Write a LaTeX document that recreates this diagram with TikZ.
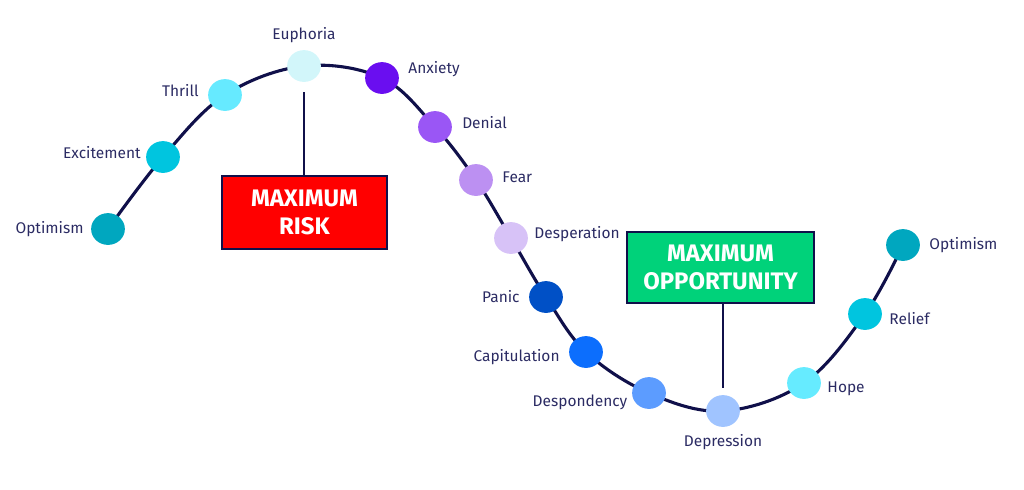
\documentclass[tikz,border=0pt]{standalone}
\usepackage{fontspec}
\setmainfont{Fira Sans}
\usepackage{tikz}
\usetikzlibrary{positioning, shapes.geometric}
\definecolor{navy}{HTML}{10104A}
\definecolor{labeltext}{HTML}{2B2B63}
\definecolor{riskred}{HTML}{FF0000}
\definecolor{oppgreen}{HTML}{00D27A}
\definecolor{cOpt}{HTML}{00A7BF}
\definecolor{cExc}{HTML}{00C5DF}
\definecolor{cThr}{HTML}{66EAFF}
\definecolor{cEup}{HTML}{D2F6FA}
\definecolor{cAnx}{HTML}{6A0EF0}
\definecolor{cDen}{HTML}{9A56F5}
\definecolor{cFea}{HTML}{BC90F2}
\definecolor{cDes}{HTML}{D7C2F7}
\definecolor{cPan}{HTML}{0050C6}
\definecolor{cCap}{HTML}{0C6EFD}
\definecolor{cDsp}{HTML}{5C9CFF}
\definecolor{cDpr}{HTML}{A0C4FF}
\definecolor{cHop}{HTML}{66EBFF}
\definecolor{cRel}{HTML}{00C5DF}

\begin{document}
\begin{tikzpicture}[
      x=0.025cm, y=-0.025cm,
      stage/.style={
        ellipse, inner sep=0pt,
        minimum width=24pt, minimum height=22.6pt,
      },
      lbl/.style={
        inner sep=0pt, text=labeltext,
        font=\fontsize{11}{13}\selectfont,
      },
      callout/.style={
        rectangle, draw=navy, line width=1.2pt, text=white, align=center,
        font=\fontsize{17}{20}\selectfont\bfseries,
        minimum width=117pt, minimum height=52pt,
      },
      wave/.style={draw=navy, line width=2.2pt},
      pointer/.style={draw=navy, line width=1pt},
    ]
      \useasboundingbox (0,0) rectangle (1024,489);

      % stages along the wave
      \coordinate (optA) at (108,229);
      \coordinate (exc) at (163,157);
      \coordinate (thr) at (225,95);
      \coordinate (eup) at (304,66);
      \coordinate (anx) at (382,78);
      \coordinate (den) at (435,127);
      \coordinate (fea) at (476,180);
      \coordinate (des) at (511,238);
      \coordinate (pan) at (546,297);
      \coordinate (cap) at (586,352);
      \coordinate (dsp) at (649,393);
      \coordinate (dpr) at (723,411);
      \coordinate (hop) at (804,383);
      \coordinate (rel) at (865,314);
      \coordinate (optB) at (903,245);

      % the wave
      \draw[wave] plot[smooth, tension=0.6] coordinates {(optA) (exc) (thr) (eup) (anx)
        (den) (fea) (des) (pan) (cap) (dsp) (dpr) (hop) (rel) (optB)};

      % dots
      \node[stage, fill=cOpt] (optAdot) at (optA) {};
      \node[stage, fill=cExc] (excdot) at (exc) {};
      \node[stage, fill=cThr] (thrdot) at (thr) {};
      \node[stage, fill=cEup] (eupdot) at (eup) {};
      \node[stage, fill=cAnx] (anxdot) at (anx) {};
      \node[stage, fill=cDen] (dendot) at (den) {};
      \node[stage, fill=cFea] (feadot) at (fea) {};
      \node[stage, fill=cDes] (desdot) at (des) {};
      \node[stage, fill=cPan] (pandot) at (pan) {};
      \node[stage, fill=cCap] (capdot) at (cap) {};
      \node[stage, fill=cDsp] (dspdot) at (dsp) {};
      \node[stage, fill=cDpr] (dprdot) at (dpr) {};
      \node[stage, fill=cHop] (hopdot) at (hop) {};
      \node[stage, fill=cRel] (reldot) at (rel) {};
      \node[stage, fill=cOpt] (optBdot) at (optB) {};

      % labels
      \node[lbl, left=5pt of optAdot] (optAlbl) {Optimism};
      \node[lbl, left=3.5pt of excdot, yshift=3pt] (exclbl) {Excitement};
      \node[lbl, left=6.4pt of thrdot, yshift=3pt] (thrlbl) {Thrill};
      \node[lbl, above=5pt of eupdot] (euplbl) {Euphoria};
      \node[lbl, right=6.4pt of anxdot, yshift=6.4pt] (anxlbl) {Anxiety};
      \node[lbl, right=7pt of dendot, yshift=3pt] (denlbl) {Denial};
      \node[lbl, right=6.4pt of feadot, yshift=2pt] (fealbl) {Fear};
      \node[lbl, right=4.3pt of desdot, yshift=3pt] (deslbl) {Desperation};
      \node[lbl, left=6.4pt of pandot] (panlbl) {Panic};
      \node[lbl, left=6.4pt of capdot, yshift=-3.5pt] (caplbl) {Capitulation};
      \node[lbl, left=3pt of dspdot, yshift=-6.4pt] (dsplbl) {Despondency};
      \node[lbl, below=5pt of dprdot] (dprlbl) {Depression};
      \node[lbl, right=4.3pt of hopdot, yshift=-4.3pt] (hoplbl) {Hope};
      \node[lbl, right=5pt of reldot, yshift=-3pt] (rellbl) {Relief};
      \node[lbl, right=6.4pt of optBdot] (optBlbl) {Optimism};

      % callouts
      \node[callout, fill=riskred] (risk) at (304.5,212.5) {MAXIMUM\\RISK};
      \node[callout, fill=oppgreen, minimum width=133pt, minimum height=50.5pt]
        (opp) at (720.5,267.5) {MAXIMUM\\OPPORTUNITY};

      \draw[pointer, shorten >=7pt] (risk.north -| eupdot.south) -- (eupdot.south);
      \draw[pointer, shorten >=5pt] (opp.south -| dprdot.north) -- (dprdot.north);
    \end{tikzpicture}
\end{document}
